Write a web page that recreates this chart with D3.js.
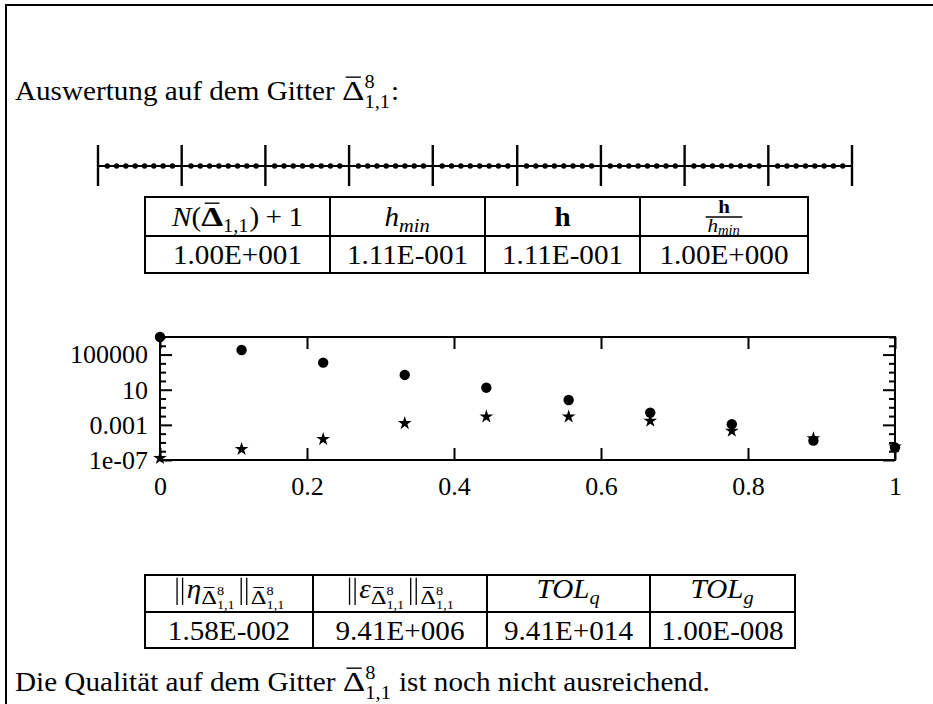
<!DOCTYPE html>
<html>
<head>
<meta charset="utf-8">
<script src="https://cdn.jsdelivr.net/npm/d3@7"></script>
<style>
  html, body { margin: 0; padding: 0; background: #fff; }
  svg { display: block; }
  text { font-family: "Liberation Serif", "Times New Roman", serif; fill: #000; white-space: pre; }
</style>
</head>
<body>
<svg id="chart" width="933" height="704"></svg>
<script>
// ---- data -------------------------------------------------------------
// coarse mesh nodes (N + 1 = 10) and the fine points inside every cell
const gridNodes   = [0, 0.111, 0.222, 0.333, 0.444, 0.556, 0.667, 0.778, 0.889, 1];
const cellOffsets = [0.111, 0.222, 0.333, 0.444, 0.556, 0.667, 0.778, 0.889];

// evaluation points of the plot
const xValues    = [0, 0.111, 0.222, 0.333, 0.444, 0.556, 0.667, 0.778, 0.889, 1];
const dotValues  = [1e7, 3.3e5, 1.2e4, 480, 17, 0.68, 0.025, 1.2e-3, 1.6e-5, 2.6e-6];
const starValues = [1.6e-7, 1.7e-6, 2.3e-5, 1.5e-3, 8.5e-3, 8.5e-3, 2.8e-3, 2e-4, 2.8e-5, 3.3e-6];

// axis ticks
const xTickValues   = [0, 0.2, 0.4, 0.6, 0.8, 1];
const xTickLabels   = ["0", "0.2", "0.4", "0.6", "0.8", "1"];
const yTickValues   = [1e-7, 1e-3, 10, 1e5];
const yTickLabels   = ["1e-07", "0.001", "10", "100000"];
const yMinorTicks   = [1e-6, 1e-5, 1e-4, 1e-2, 1e-1, 1, 100, 1e3, 1e4, 1e6, 1e7];

// table entries
const meshValues  = ["1.00E+001", "1.11E-001", "1.11E-001", "1.00E+000"];
const errorValues = ["1.58E-002", "9.41E+006", "9.41E+014", "1.00E-008"];

// ---- helpers ------------------------------------------------------------
const svg = d3.select("#chart");
const FS = 27.5;      // body text size
const SX = 1.06;      // horizontal set width of body text
const TICK_FS = 26;   // axis label size
const INK = "#000";

// small typesetter: strings, {t,i,b,bar,sx}, {norm}, {space}, {sup,sub}, {frac:[num,den]}
function renderItem(g, it, x, y, fs) {
  if (typeof it === "string") it = { t: it };
  if (it.space !== undefined) return it.space * fs;
  if (it.norm) {
    const w = fs * 0.5, sw = Math.max(1, fs * 0.045);
    [0.17, 0.36].forEach(f => g.append("line")
      .attr("x1", x + w * f * 2).attr("x2", x + w * f * 2)
      .attr("y1", y - fs * 0.74).attr("y2", y + fs * 0.25)
      .attr("stroke", INK).attr("stroke-width", sw));
    return w;
  }
  if (it.t !== undefined) {
    const sx = it.sx || 1;
    const t = g.append("text")
      .attr("transform", `translate(${x},${y}) scale(${sx},1)`)
      .attr("font-size", fs)
      .attr("font-style", it.i ? "italic" : null)
      .attr("font-weight", it.b ? "bold" : null)
      .text(it.t);
    const w = t.node().getComputedTextLength() * sx;
    if (it.bar) {
      const by = y - fs * 0.83;
      g.append("line")
        .attr("x1", x + w * 0.16).attr("x2", x + w * 0.84)
        .attr("y1", by).attr("y2", by)
        .attr("stroke", INK).attr("stroke-width", Math.max(1, fs * 0.05));
    }
    return w;
  }
  if (it.sup || it.sub) {
    const s = fs * 0.7;
    let w1 = 0, w2 = 0;
    if (it.sup) w1 = renderList(g, it.sup, x, y - fs * 0.42, s);
    if (it.sub) w2 = renderList(g, it.sub, x, y + (it.sup ? fs * 0.3 : fs * 0.2), s);
    return Math.max(w1, w2) + fs * 0.03;
  }
  if (it.frac) {
    const s = fs * 0.72;
    const tmp = g.append("g");
    const wn = renderList(tmp, it.frac[0], 0, 0, s);
    const wd = renderList(tmp, it.frac[1], 0, 0, s);
    tmp.remove();
    const W = Math.max(wn, wd) + fs * 0.12;
    renderList(g, it.frac[0], x + (W - wn) / 2, y - fs * 0.46, s);
    renderList(g, it.frac[1], x + (W - wd) / 2, y + fs * 0.2, s);
    g.append("line")
      .attr("x1", x).attr("x2", x + W)
      .attr("y1", y - fs * 0.33).attr("y2", y - fs * 0.33)
      .attr("stroke", INK).attr("stroke-width", 1.4);
    return W;
  }
  return 0;
}
function renderList(g, list, x, y, fs) {
  let cx = x;
  for (const it of list) cx += renderItem(g, it, cx, y, fs);
  return cx - x;
}
function rich(parent, list, x, y, fs, anchor) {
  const g = parent.append("g");
  const w = renderList(g, list, 0, 0, fs) * SX;
  const dx = anchor === "middle" ? x - w / 2 : x;
  g.attr("transform", `translate(${dx},${y}) scale(${SX},1)`);
  return g;
}

const DELTA = "\u0394";
const gridSym = [{ t: DELTA, bar: true, sx: 1.2 }, { sup: ["8"], sub: ["1,1"] }];

// ---- page frame -------------------------------------------------------
svg.append("path")
  .attr("d", "M6,704V5H933")
  .attr("fill", "none").attr("stroke", INK).attr("stroke-width", 2);

// ---- heading ------------------------------------------------------------
rich(svg, ["Auswertung auf dem Gitter ", ...gridSym, ":"], 15, 100, FS, "start");

// ---- mesh picture -----------------------------------------------------
const xm = d3.scaleLinear().domain([0, 1]).range([98, 852]);
const meshY = 166;
const mesh = svg.append("g");
mesh.append("line")
  .attr("x1", xm(0)).attr("x2", xm(1)).attr("y1", meshY).attr("y2", meshY)
  .attr("stroke", INK).attr("stroke-width", 2);
const finePts = [];
gridNodes.slice(0, -1).forEach((a, k) => {
  const b = gridNodes[k + 1];
  cellOffsets.forEach(o => finePts.push(a + (b - a) * o));
});
mesh.selectAll("circle.fine").data(finePts).join("circle")
  .attr("class", "fine")
  .attr("cx", d => xm(d)).attr("cy", meshY).attr("r", 2.7).attr("fill", INK);
mesh.selectAll("line.node").data(gridNodes).join("line")
  .attr("class", "node")
  .attr("x1", d => xm(d)).attr("x2", d => xm(d))
  .attr("y1", meshY - 21).attr("y2", meshY + 20)
  .attr("stroke", INK).attr("stroke-width", 2.4);

// ---- tables -------------------------------------------------------------
function drawTable(cols, rows, heads, values, headY, valY) {
  const g = svg.append("g");
  rows.forEach(r => g.append("line")
    .attr("x1", cols[0] - 1).attr("x2", cols[cols.length - 1] + 1)
    .attr("y1", r).attr("y2", r).attr("stroke", INK).attr("stroke-width", 2));
  cols.forEach(c => g.append("line")
    .attr("x1", c).attr("x2", c).attr("y1", rows[0]).attr("y2", rows[rows.length - 1])
    .attr("stroke", INK).attr("stroke-width", 2));
  heads.forEach((h, k) => rich(g, h, (cols[k] + cols[k + 1]) / 2, headY, FS, "middle"));
  values.forEach((v, k) => rich(g, [v], (cols[k] + cols[k + 1]) / 2, valY, FS, "middle"));
}

const meshHeads = [
  [{ t: "N", i: true }, "(", { t: DELTA, b: true, bar: true, sx: 1.2 }, { sub: ["1,1"] }, ")", { space: 0.22 }, "+", { space: 0.22 }, "1"],
  [{ t: "h", i: true }, { sub: [{ t: "min", i: true }] }],
  [{ t: "h", b: true }],
  [{ frac: [[{ t: "h", b: true }], [{ t: "h", i: true }, { sub: [{ t: "min", i: true }] }]] }]
];
drawTable([145, 330, 485, 640, 808], [197, 236, 273], meshHeads, meshValues, 226, 264);

const normSub = [{ sub: gridSym }];
const errHeads = [
  [{ norm: true }, { t: "\u03B7", i: true }, ...normSub, { norm: true }, ...normSub],
  [{ norm: true }, { t: "\u03B5", i: true }, ...normSub, { norm: true }, ...normSub],
  [{ t: "TOL", i: true }, { sub: [{ t: "q", i: true }] }],
  [{ t: "TOL", i: true }, { sub: [{ t: "g", i: true }] }]
];
drawTable([145, 313, 487, 650, 795], [575, 612, 648], errHeads, errorValues, 598, 640);

// ---- plot ---------------------------------------------------------------
const x = d3.scaleLinear().domain([0, 1]).range([160, 895]);
const y = d3.scaleLog().domain([1e-7, 1e7]).range([460, 337]);
const plot = svg.append("g");

function styleAxis(sel) {
  sel.select(".domain").remove();
  sel.selectAll("line").attr("stroke", INK).attr("stroke-width", 2);
  sel.selectAll("text").attr("font-size", TICK_FS).attr("font-family", null).attr("fill", INK);
}

plot.append("g").attr("transform", `translate(0,${y.range()[0]})`)
  .call(d3.axisBottom(x).tickValues(xTickValues).tickFormat((d, i) => xTickLabels[i])
    .tickSizeInner(-12).tickSizeOuter(0).tickPadding(17))
  .call(styleAxis);
plot.append("g").attr("transform", `translate(0,${y.range()[1]})`)
  .call(d3.axisTop(x).tickValues(xTickValues).tickFormat("")
    .tickSizeInner(-12).tickSizeOuter(0))
  .call(styleAxis);

plot.append("g").attr("transform", `translate(${x.range()[0]},0)`)
  .call(d3.axisLeft(y).tickValues(yTickValues).tickFormat((d, i) => yTickLabels[i])
    .tickSizeInner(-12).tickSizeOuter(0).tickPadding(12))
  .call(styleAxis);
plot.append("g").attr("transform", `translate(${x.range()[0]},0)`)
  .call(d3.axisLeft(y).tickValues(yMinorTicks).tickFormat("")
    .tickSizeInner(-6).tickSizeOuter(0))
  .call(styleAxis);
plot.append("g").attr("transform", `translate(${x.range()[1]},0)`)
  .call(d3.axisRight(y).tickValues(yTickValues).tickFormat("")
    .tickSizeInner(-12).tickSizeOuter(0))
  .call(styleAxis);
plot.append("g").attr("transform", `translate(${x.range()[1]},0)`)
  .call(d3.axisRight(y).tickValues(yMinorTicks).tickFormat("")
    .tickSizeInner(-6).tickSizeOuter(0))
  .call(styleAxis);

plot.append("rect")
  .attr("x", x.range()[0]).attr("y", y.range()[1])
  .attr("width", x.range()[1] - x.range()[0]).attr("height", y.range()[0] - y.range()[1])
  .attr("fill", "none").attr("stroke", INK).attr("stroke-width", 2);

// thin five-pointed star marker
const thinStar = {
  draw(ctx, size) {
    const R = Math.sqrt(size), r = R * 0.38;
    for (let k = 0; k < 10; k++) {
      const a = -Math.PI / 2 + k * Math.PI / 5;
      const rad = k % 2 ? r : R;
      const px = rad * Math.cos(a), py = rad * Math.sin(a);
      if (k === 0) ctx.moveTo(px, py); else ctx.lineTo(px, py);
    }
    ctx.closePath();
  }
};

plot.selectAll("path.star").data(starValues).join("path")
  .attr("class", "star")
  .attr("transform", (d, i) => `translate(${x(xValues[i])},${y(d)})`)
  .attr("d", d3.symbol().type(thinStar).size(52))
  .attr("fill", INK);

plot.selectAll("circle.dot").data(dotValues).join("circle")
  .attr("class", "dot")
  .attr("cx", (d, i) => x(xValues[i])).attr("cy", d => y(d))
  .attr("r", 5.2).attr("fill", INK);

// ---- closing sentence ---------------------------------------------------
rich(svg, ["Die Qualit\u00E4t auf dem Gitter ", ...gridSym, " ist noch nicht ausreichend."], 15, 691, FS, "start");
</script>
</body>
</html>
